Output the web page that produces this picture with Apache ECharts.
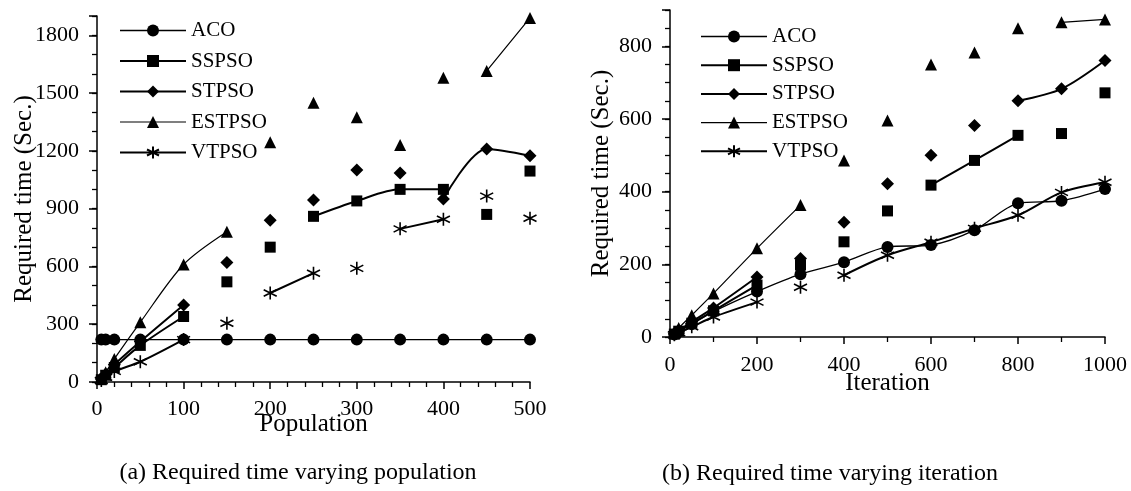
<!DOCTYPE html>
<html>
<head>
<meta charset="utf-8">
<script src="https://cdn.jsdelivr.net/npm/echarts@6/dist/echarts.min.js"></script>
<style>
  html, body { margin: 0; padding: 0; background: #fff; }
  #main { width: 1131px; height: 491px; }
</style>
</head>
<body>
<div id="main"></div>
<script>
// (a) required time vs population
var popX = [5, 10, 20, 50, 100, 150, 200, 250, 300, 350, 400, 450, 500];
var popACO = [220, 220, 220, 220, 220, 220, 220, 220, 220, 220, 220, 220, 220];
var popSSPSO = [12, 35, 75, 190, 340, 520, 700, 860, 940, 1000, 1000, 870, 1095];
var popSTPSO = [15, 40, 90, 210, 400, 620, 840, 945, 1100, 1085, 950, 1210, 1175];
var popESTPSO = [20, 50, 120, 310, 610, 780, 1245, 1450, 1375, 1230, 1580, 1615, 1890];
var popVTPSO = [8, 25, 55, 105, 220, 305, 462, 565, 590, 795, 845, 965, 850];

// (b) required time vs iteration
var iterX = [10, 20, 50, 100, 200, 300, 400, 500, 600, 700, 800, 900, 1000];
var iterACO = [7, 15, 35, 70, 125, 173, 206, 248, 253, 294, 368, 375, 407];
var iterSSPSO = [8, 16, 38, 72, 143, 198, 262, 347, 418, 486, 555, 560, 672];
var iterSTPSO = [9, 18, 42, 80, 165, 216, 316, 422, 500, 582, 650, 683, 761];
var iterESTPSO = [12, 25, 60, 120, 244, 363, 486, 596, 750, 783, 850, 866, 874];
var iterVTPSO = [6, 12, 28, 55, 96, 137, 170, 225, 261, 299, 335, 398, 426];

var names = ["ACO", "SSPSO", "STPSO", "ESTPSO", "VTPSO"];

var FONT = "Liberation Serif";
var starPath = "path://M0,-10L0,10M-8.66,-5L8.66,5M-8.66,5L8.66,-5";
var symbols = ["circle", "rect", "diamond", "triangle", starPath];
var symSizes = [12, 11, 13, 12, 13];
var lineWidths = [1.3, 2, 2, 1.2, 2];

// visible pieces of each curve (x ranges), the original figure only shows parts
var popSegs = [[[0, 500]], [[0, 100], [250, 400]], [[0, 100], [400, 500]], [[0, 150], [450, 500]], [[0, 100], [200, 250], [350, 400]]];
var iterSegs = [[[0, 1000]], [[0, 200], [600, 800]], [[0, 200], [800, 1000]], [[0, 300], [900, 1000]], [[0, 200], [400, 1000]]];

function inSegs(x, segs) {
  for (var i = 0; i < segs.length; i++) {
    if (x >= segs[i][0] && x <= segs[i][1]) return true;
  }
  return false;
}

function buildSeries(xs, ys, k, segs, xi, yi) {
  var pts = xs.map(function (x, i) { return [x, ys[i]]; });
  var linePts = xs.map(function (x, i) { return inSegs(x, segs) ? [x, ys[i]] : [x, "-"]; });
  var marker = {
    name: names[k],
    type: "line",
    xAxisIndex: xi,
    yAxisIndex: yi,
    data: pts,
    symbol: symbols[k],
    symbolSize: symSizes[k],
    itemStyle: { color: "#000", borderColor: "#000", borderWidth: k === 4 ? 1.6 : 0 },
    lineStyle: { opacity: 0, width: lineWidths[k], color: "#000" },
    z: 3,
    animation: false
  };
  var curve = {
    name: names[k] + " curve",
    type: "line",
    xAxisIndex: xi,
    yAxisIndex: yi,
    data: linePts,
    symbol: "none",
    smooth: 0.3,
    connectNulls: false,
    lineStyle: { color: "#000", width: lineWidths[k] },
    z: 2,
    animation: false
  };
  return [marker, curve];
}

var series = [];
var popData = [popACO, popSSPSO, popSTPSO, popESTPSO, popVTPSO];
var iterData = [iterACO, iterSSPSO, iterSTPSO, iterESTPSO, iterVTPSO];
for (var k = 0; k < 5; k++) {
  series = series.concat(buildSeries(popX, popData[k], k, popSegs[k], 0, 0));
  series = series.concat(buildSeries(iterX, iterData[k], k, iterSegs[k], 1, 2));
}

var axisLine = { show: true, lineStyle: { color: "#000", width: 1.5 } };
var labelStyle = { color: "#000", fontFamily: FONT, fontSize: 22 };
var nameStyle = { color: "#000", fontFamily: FONT, fontSize: 25 };

function legendData() {
  return names.map(function (n, k) {
    return { name: n, lineStyle: { opacity: 1, width: lineWidths[k], color: "#000" } };
  });
}

var option = {
  backgroundColor: "#fff",
  animation: false,
  grid: [
    { left: 97, right: 601, top: 16, bottom: 109 },
    { left: 670, right: 26, top: 10, bottom: 154 }
  ],
  legend: [
    {
      orient: "vertical", left: 114, top: 15, itemWidth: 66, itemHeight: 15, itemGap: 9.5,
      data: legendData(),
      textStyle: { color: "#000", fontFamily: FONT, fontSize: 21 }
    },
    {
      orient: "vertical", left: 695, top: 21, itemWidth: 66, itemHeight: 15, itemGap: 7.7,
      data: legendData(),
      textStyle: { color: "#000", fontFamily: FONT, fontSize: 21 }
    }
  ],
  xAxis: [
    {
      gridIndex: 0, type: "value", min: 0, max: 500, interval: 100,
      name: "Population", nameLocation: "middle", nameGap: 30, nameMoveOverlap: false, nameTextStyle: nameStyle,
      axisLine: axisLine, splitLine: { show: false },
      axisTick: { show: true, length: 7, lineStyle: { color: "#000", width: 1.5 } },
      minorTick: { show: true, splitNumber: 5, length: 5, lineStyle: { color: "#000", width: 1.3 } },
      axisLabel: Object.assign({ margin: 16, formatter: function (v) { return String(v); } }, labelStyle)
    },
    {
      gridIndex: 1, type: "value", min: 0, max: 1000, interval: 200,
      name: "Iteration", nameLocation: "middle", nameGap: 34, nameMoveOverlap: false, nameTextStyle: nameStyle,
      axisLine: axisLine, splitLine: { show: false },
      axisTick: { show: true, length: 7, lineStyle: { color: "#000", width: 1.5 } },
      minorTick: { show: true, splitNumber: 2, length: 5, lineStyle: { color: "#000", width: 1.3 } },
      axisLabel: Object.assign({ margin: 17, formatter: function (v) { return String(v); } }, labelStyle)
    }
  ],
  yAxis: [
    {
      gridIndex: 0, type: "value", min: 0, max: 1900, interval: 100,
      name: "Required time (Sec.)", nameLocation: "middle", nameGap: 60, nameMoveOverlap: false, nameTextStyle: nameStyle,
      axisLine: axisLine, splitLine: { show: false },
      axisTick: { show: true, length: 5, lineStyle: { color: "#000", width: 1.3 } },
      axisLabel: Object.assign({
        margin: 18,
        formatter: function (v) { return v % 300 === 0 ? String(v) : ""; }
      }, labelStyle)
    },
    {
      gridIndex: 0, type: "value", min: 0, max: 1900, interval: 300, position: "left",
      axisLine: { show: false }, splitLine: { show: false }, axisLabel: { show: false },
      axisTick: { show: true, length: 8, lineStyle: { color: "#000", width: 1.5 } }
    },
    {
      gridIndex: 1, type: "value", min: 0, max: 900, interval: 50,
      name: "Required time (Sec.)", nameLocation: "middle", nameGap: 56, nameMoveOverlap: false, nameTextStyle: nameStyle,
      axisLine: axisLine, splitLine: { show: false },
      axisTick: { show: true, length: 5, lineStyle: { color: "#000", width: 1.3 } },
      axisLabel: Object.assign({
        margin: 18,
        formatter: function (v) { return v % 200 === 0 ? String(v) : ""; }
      }, labelStyle)
    },
    {
      gridIndex: 1, type: "value", min: 0, max: 900, interval: 200, position: "left",
      axisLine: { show: false }, splitLine: { show: false }, axisLabel: { show: false },
      axisTick: { show: true, length: 8, lineStyle: { color: "#000", width: 1.5 } }
    }
  ],
  graphic: [
    {
      type: "text", x: 298, y: 473,
      style: { text: "(a) Required time varying population", font: "24px " + FONT, fill: "#000", align: "center", verticalAlign: "middle" }
    },
    {
      type: "text", x: 830, y: 474,
      style: { text: "(b) Required time varying iteration", font: "24px " + FONT, fill: "#000", align: "center", verticalAlign: "middle" }
    }
  ],
  series: series
};

var myChart = echarts.init(document.getElementById("main"));
myChart.setOption(option);
</script>
</body>
</html>
